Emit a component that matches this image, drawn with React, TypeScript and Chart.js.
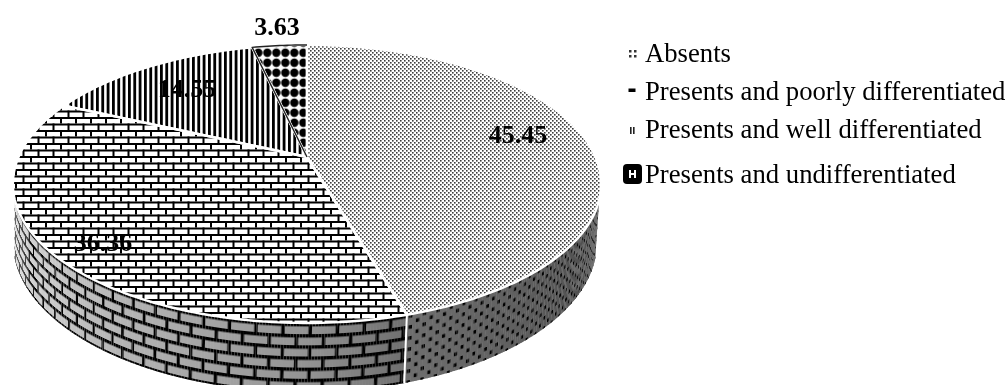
import React, { useEffect, useRef } from "react";
import { Chart, registerables } from "chart.js";

Chart.register(...registerables);

const categories = [
  "Absents",
  "Presents and poorly differentiated",
  "Presents and well differentiated",
  "Presents and undifferentiated",
];
const percentages = [45.45, 36.36, 14.55, 3.63];

const WIDTH = 1008;
const HEIGHT = 385;
const SERIF = '"Liberation Serif", "Times New Roman", serif';

// Camera model for the tilted disc: the centre of the pie lands on (APEX_X, APEX_Y)
// and nearer points are magnified by the divisor 1 - TILT * v.
const APEX_X = 307;
const APEX_Y = 157;
const TILT = 0.194;
const SCALE_X = 288.5;
const SCALE_Y = 133.8;
// Ellipses of the upper and lower rims, used to drop the upper rim onto the lower one.
const TOP_RIM = { x: 307, y: 184, a: 294, b: 139 };
const BOTTOM_RIM = { x: 305, y: 242, a: 292, b: 150 };
const WALL_HEIGHT = 68;
const WALL_RADIUS = 354;

const valueLabelCentres = [
  [518, 135],
  [103, 243],
  [187, 89],
  [277, 27],
];
const legendBaselines = [62, 100, 138, 183];

type Pt = [number, number];

function project(theta: number, rho = 1): Pt {
  const u = Math.sin(theta) * rho;
  const v = -Math.cos(theta) * rho;
  const w = 1 - TILT * v;
  return [APEX_X + (SCALE_X * u) / w, APEX_Y + (SCALE_Y * v) / w];
}

function dropToBase([x, y]: Pt): Pt {
  return [
    BOTTOM_RIM.x + ((x - TOP_RIM.x) * BOTTOM_RIM.a) / TOP_RIM.a,
    BOTTOM_RIM.y + ((y - TOP_RIM.y) * BOTTOM_RIM.b) / TOP_RIM.b,
  ];
}

function tile(w: number, h: number, paint: (c: CanvasRenderingContext2D) => void, background?: string) {
  const canvas = document.createElement("canvas");
  canvas.width = w;
  canvas.height = h;
  const c = canvas.getContext("2d") as CanvasRenderingContext2D;
  if (background) {
    c.fillStyle = background;
    c.fillRect(0, 0, w, h);
  }
  c.fillStyle = "#000";
  paint(c);
  return canvas;
}

function brickTile(w: number, rowH: number, line: number) {
  return (c: CanvasRenderingContext2D) => {
    c.fillRect(0, 0, w, line);
    c.fillRect(0, rowH, w, line);
    c.fillRect(0, 0, line, rowH);
    c.fillRect(w / 2, rowH, line, rowH);
  };
}

function dotGrid(w: number, h: number, size: number, shade: string) {
  return (c: CanvasRenderingContext2D) => {
    c.fillStyle = shade;
    c.fillRect(0, 0, size, size);
    c.fillRect(w / 2, h / 2, size, size);
  };
}

function facePatterns(ctx: CanvasRenderingContext2D) {
  const dots = ctx.createPattern(tile(4, 4, dotGrid(4, 4, 1.6, "#3c3c3c"), "#fff"), "repeat")!;
  const bricks = ctx.createPattern(tile(15, 13, brickTile(15, 6.5, 2), "#fff"), "repeat")!;
  const stripes = ctx.createPattern(
    tile(
      16,
      4,
      (c) => {
        c.fillRect(0, 0, 2.8, 4);
        c.fillRect(5.33, 0, 2.8, 4);
        c.fillRect(10.67, 0, 2.8, 4);
      },
      "#fff",
    ),
    "repeat",
  )!;
  const spots = ctx.createPattern(
    tile(
      9,
      10,
      (c) => {
        c.beginPath();
        c.arc(4.5, 5, 4.2, 0, Math.PI * 2);
        c.fill();
      },
      "#fff",
    ),
    "repeat",
  )!;
  spots.setTransform(new DOMMatrix().translate(253.8, 47.7));
  return [dots, bricks, stripes, spots];
}

function wallPatterns(ctx: CanvasRenderingContext2D) {
  const dots = ctx.createPattern(tile(15, 11, dotGrid(15, 11, 3.6, "#000")), "repeat");
  const bricks = ctx.createPattern(tile(27, 22, brickTile(27, 11, 3.4)), "repeat");
  return [dots, bricks, null, null];
}

// Grey of the outer wall, from the dark right-hand side round to the lit left-hand side.
function wallShade(deg: number) {
  const stops = [
    [90, 60],
    [163, 110],
    [180, 148],
    [230, 200],
    [275, 240],
  ];
  for (let i = 1; i < stops.length; i++) {
    if (deg <= stops[i][0]) {
      const [d0, g0] = stops[i - 1];
      const [d1, g1] = stops[i];
      const g = Math.round(g0 + ((g1 - g0) * (deg - d0)) / (d1 - d0));
      return `rgb(${g},${g},${g})`;
    }
  }
  return "rgb(240,240,240)";
}

function drawWallSegment(
  ctx: CanvasRenderingContext2D,
  from: number,
  to: number,
  pattern: CanvasPattern | null,
) {
  if (!pattern) return;
  const step = (0.5 * Math.PI) / 180;
  for (let th = from; th < to; th += step) {
    const p0 = project(th);
    const p1 = project(th + step);
    if (p0[1] < 200 && p1[1] < 200) continue;
    const b0 = dropToBase(p0);
    const ds = WALL_RADIUS * step;
    const s = WALL_RADIUS * th;
    const ax = (p1[0] - p0[0]) / ds;
    const ay = (p1[1] - p0[1]) / ds;
    const cx = (b0[0] - p0[0]) / WALL_HEIGHT;
    const cy = (b0[1] - p0[1]) / WALL_HEIGHT;
    ctx.save();
    ctx.transform(ax, ay, cx, cy, p0[0] - s * ax, p0[1] - s * ay);
    ctx.fillStyle = wallShade((th * 180) / Math.PI);
    ctx.fillRect(s, 0, ds * 1.2, WALL_HEIGHT);
    ctx.fillStyle = pattern;
    ctx.fillRect(s, 0, ds * 1.02, WALL_HEIGHT);
    ctx.restore();
  }
}

function traceRim(ctx: CanvasRenderingContext2D, from: number, to: number) {
  const steps = Math.max(2, Math.ceil(((to - from) * 180) / Math.PI));
  for (let i = 0; i <= steps; i++) {
    const [x, y] = project(from + ((to - from) * i) / steps);
    ctx.lineTo(x, y);
  }
}

// Replaces the flat arcs with the tilted, extruded pie built from the arc angles.
const tiltedPie = {
  id: "tiltedPie",
  beforeDatasetDraw(chart: any) {
    const ctx: CanvasRenderingContext2D = chart.ctx;
    const arcs = chart.getDatasetMeta(0).data;
    const walls = wallPatterns(ctx);
    const spans = arcs.map((arc: any) => [arc.startAngle + Math.PI / 2, arc.endAngle + Math.PI / 2]);

    ctx.save();
    ctx.beginPath();
    ctx.rect(0, 0, WIDTH, HEIGHT);
    ctx.clip();

    spans.forEach(([a, b]: number[], i: number) => drawWallSegment(ctx, a, b, walls[i]));
    spans.forEach(([a]: number[]) => {
      const p = project(a);
      if (p[1] < 200) return;
      const q = dropToBase(p);
      ctx.beginPath();
      ctx.moveTo(p[0], p[1]);
      ctx.lineTo(q[0], q[1]);
      ctx.strokeStyle = "#fff";
      ctx.lineWidth = 2;
      ctx.stroke();
    });

    spans.forEach(([a, b]: number[], i: number) => {
      ctx.beginPath();
      ctx.moveTo(APEX_X, APEX_Y);
      traceRim(ctx, a, b);
      ctx.closePath();
      ctx.fillStyle = arcs[i].options.backgroundColor;
      ctx.fill();
    });
    spans.forEach(([a, b]: number[]) => {
      ctx.beginPath();
      ctx.moveTo(APEX_X, APEX_Y);
      traceRim(ctx, a, b);
      ctx.closePath();
      ctx.strokeStyle = "#fff";
      ctx.lineWidth = 2.4;
      ctx.lineJoin = "round";
      ctx.stroke();
    });
    // The smallest slice keeps a dark edge along its left side and outer rim.
    const [a, b] = spans[spans.length - 1];
    ctx.beginPath();
    ctx.moveTo(APEX_X, APEX_Y);
    traceRim(ctx, a, b);
    ctx.strokeStyle = "#222";
    ctx.lineWidth = 1.4;
    ctx.stroke();

    ctx.restore();
    return false;
  },
  afterDraw(chart: any) {
    const ctx: CanvasRenderingContext2D = chart.ctx;
    ctx.save();
    ctx.fillStyle = "#000";
    ctx.textAlign = "center";
    ctx.textBaseline = "middle";
    ctx.font = `bold 26px ${SERIF}`;
    percentages.forEach((value, i) => {
      const [x, y] = valueLabelCentres[i];
      ctx.fillText(value.toFixed(2), x, y + 1);
    });

    ctx.textAlign = "left";
    ctx.textBaseline = "alphabetic";
    ctx.font = `26.7px ${SERIF}`;
    categories.forEach((name, i) => {
      ctx.fillStyle = "#000";
      ctx.fillText(name, 645, legendBaselines[i]);
    });

    // Legend keys
    ctx.fillStyle = "#333";
    [[629, 50], [634, 50], [629, 55], [634, 55]].forEach(([x, y]) => ctx.fillRect(x, y, 2.5, 2.5));
    ctx.fillStyle = "#000";
    ctx.fillRect(628.5, 88.5, 7, 3.5);
    ctx.fillStyle = "#222";
    ctx.fillRect(630, 127, 1.6, 7);
    ctx.fillRect(633, 127, 1.6, 7);
    ctx.fillStyle = "#000";
    ctx.beginPath();
    ctx.roundRect(623, 164, 19, 20, 4);
    ctx.fill();
    ctx.fillStyle = "#fff";
    ctx.fillRect(629, 170, 2, 8);
    ctx.fillRect(634, 170, 2, 8);
    ctx.fillRect(629, 173, 7, 2);
    ctx.restore();
  },
};

export default function App() {
  const canvasRef = useRef<HTMLCanvasElement>(null);

  useEffect(() => {
    document.body.style.margin = "0";
    const canvas = canvasRef.current as HTMLCanvasElement;
    const ctx = canvas.getContext("2d") as CanvasRenderingContext2D;
    const chart = new Chart(canvas, {
      type: "pie",
      data: {
        labels: categories,
        datasets: [{ data: percentages, backgroundColor: facePatterns(ctx) as any, borderWidth: 0 }],
      },
      options: {
        responsive: false,
        animation: false,
        plugins: { legend: { display: false }, title: { display: false }, tooltip: { enabled: false } },
      },
      plugins: [tiltedPie as any],
    });
    return () => chart.destroy();
  }, []);

  return (
    <canvas
      ref={canvasRef}
      width={WIDTH}
      height={HEIGHT}
      style={{ display: "block", width: WIDTH, height: HEIGHT, background: "#fff" }}
    />
  );
}
